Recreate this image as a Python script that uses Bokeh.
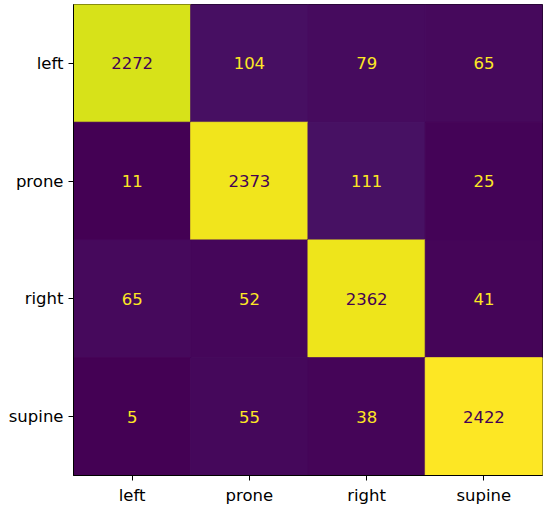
from bokeh.plotting import figure
from bokeh.models import ColumnDataSource, LinearColorMapper, FactorRange
from bokeh.palettes import Viridis256
from bokeh.transform import transform
from bokeh.embed import file_html
from bokeh.resources import INLINE
from bokeh.core.properties import value

labels = ["left", "prone", "right", "supine"]
row_left = [2272, 104, 79, 65]
row_prone = [11, 2373, 111, 25]
row_right = [65, 52, 2362, 41]
row_supine = [5, 55, 38, 2422]
rows = [row_left, row_prone, row_right, row_supine]

xs, ys, vals, txt, tcol = [], [], [], [], []
allv = [v for r in rows for v in r]
lo, hi = min(allv), max(allv)
thresh = (lo + hi) / 2.0
for true_lab, r in zip(labels, rows):
    for pred_lab, v in zip(labels, r):
        xs.append(pred_lab)
        ys.append(true_lab)
        vals.append(v)
        txt.append(str(v))
        tcol.append(Viridis256[0] if v > thresh else Viridis256[-1])

src = ColumnDataSource(dict(x=xs, y=ys, v=vals, t=txt, c=tcol))
mapper = LinearColorMapper(palette=Viridis256, low=lo, high=hi)

p = figure(width=546, height=507, output_backend="svg", toolbar_location=None,
           x_range=FactorRange(*labels), y_range=FactorRange(*labels[::-1]),
           min_border_left=73, min_border_right=4, min_border_top=4, min_border_bottom=0)
p.rect(x="x", y="y", width=1, height=1, source=src,
       fill_color=transform("v", mapper), line_color=transform("v", mapper),
       line_width=1)
p.text(x="x", y="y", text="t", source=src, text_color="c",
       text_align="center", text_baseline="middle",
       text_font=value("DejaVu Sans"), text_font_size="16.5px")

p.grid.visible = False
p.outline_line_color = "black"
p.outline_line_width = 1
p.x_range.range_padding = 0
p.y_range.range_padding = 0
for ax in (p.xaxis, p.yaxis):
    ax.axis_line_color = "black"
    ax.major_tick_line_color = "black"
    ax.major_tick_out = 5
    ax.major_tick_in = 0
    ax.minor_tick_line_color = None
    ax.major_label_text_font = "DejaVu Sans"
    ax.major_label_text_font_size = "16.5px"
    ax.major_label_text_color = "black"
    ax.major_label_standoff = 5
p.background_fill_color = "white"
p.border_fill_color = "white"

open("out.html", "w").write(file_html(p, INLINE))
